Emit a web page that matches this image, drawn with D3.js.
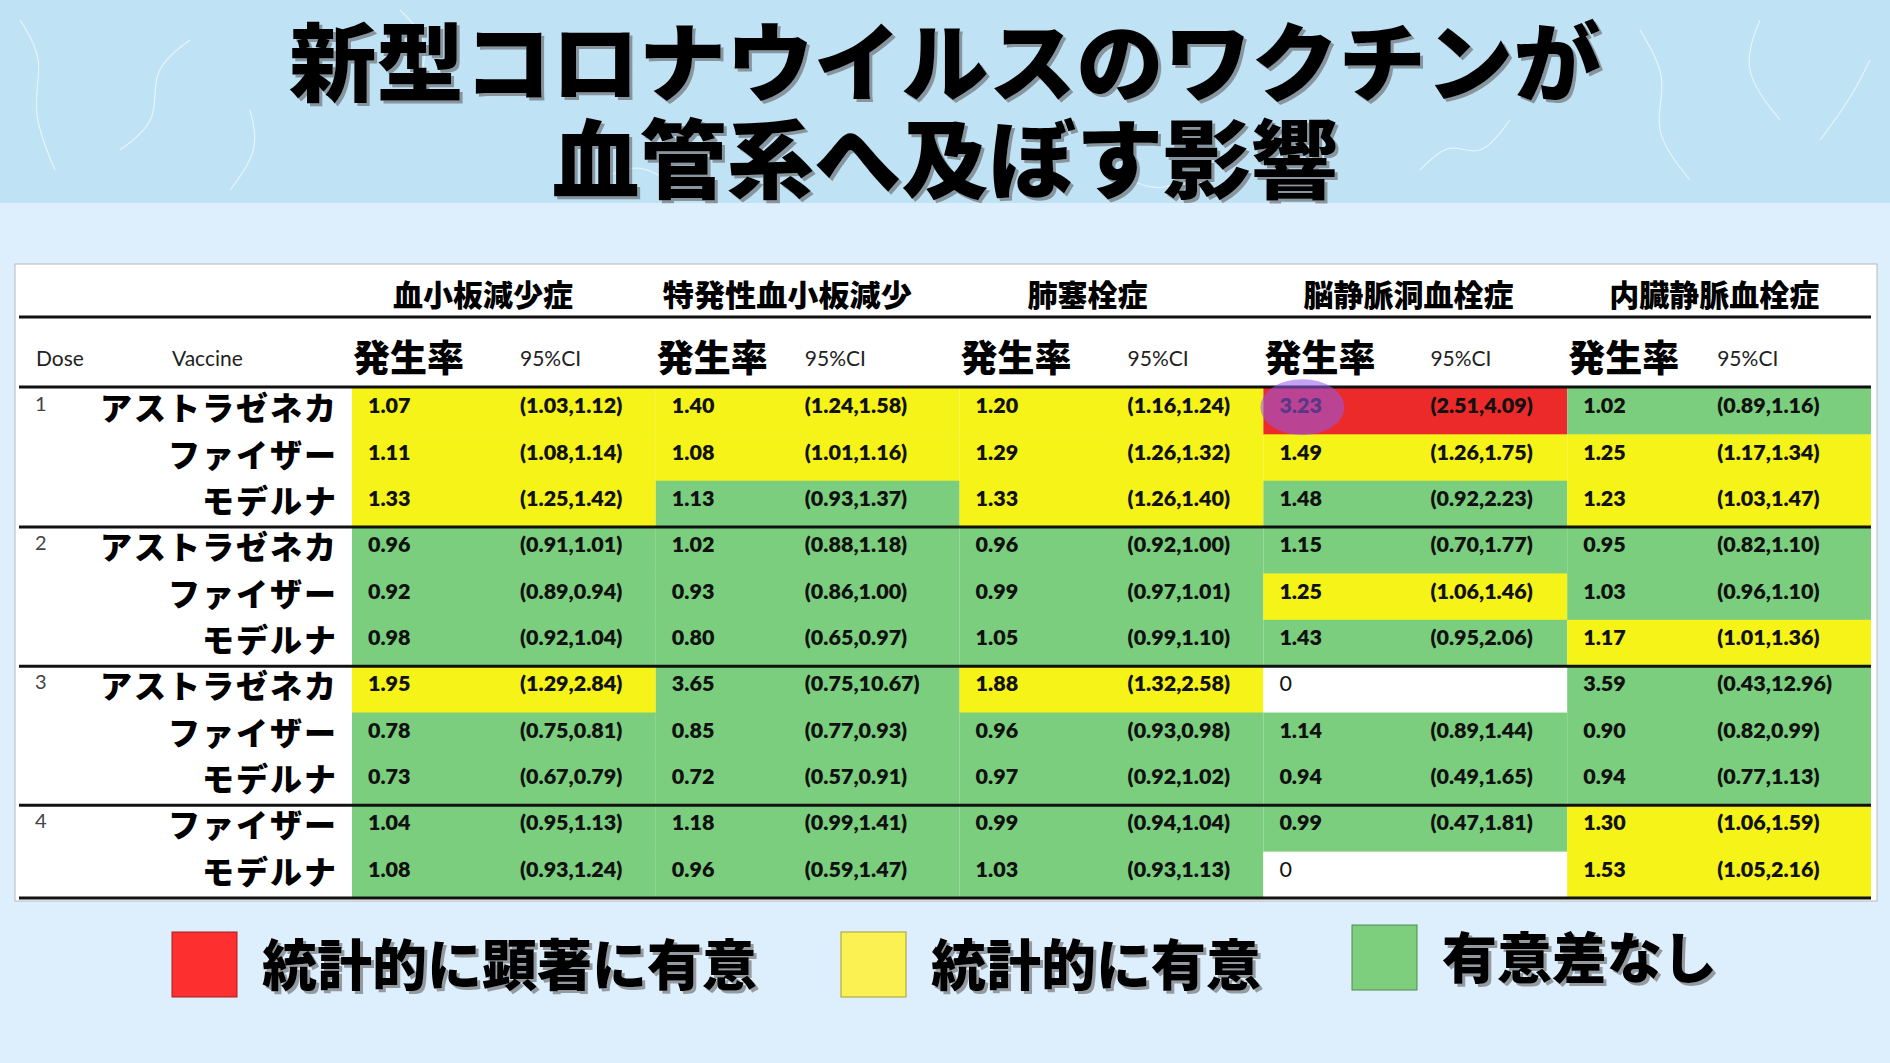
<!DOCTYPE html>
<meta charset="utf-8">
<style>
  html, body { margin: 0; padding: 0; background: #ddeefc; }
  svg { display: block; }
</style>
<body>
<script src="https://cdn.jsdelivr.net/npm/d3@7"></script>
<script>

    var width = 1890,
        height = 1063;

    // ---- data ----
    var titleLines = ["新型コロナウイルスのワクチンが", "血管系へ及ぼす影響"];
    var diseases = ["血小板減少症", "特発性血小板減少", "肺塞栓症", "脳静脈洞血栓症", "内臓静脈血栓症"];
    var doses = [1, 1, 1, 2, 2, 2, 3, 3, 3, 4, 4];
    var vaccines = ["アストラゼネカ", "ファイザー", "モデルナ",
                    "アストラゼネカ", "ファイザー", "モデルナ",
                    "アストラゼネカ", "ファイザー", "モデルナ",
                    "ファイザー", "モデルナ"];

    // incidence rate ratio, 95% CI, significance (R = highly sig., Y = sig., G = none, W = no data)
    var rateThrombo = [1.07, 1.11, 1.33, 0.96, 0.92, 0.98, 1.95, 0.78, 0.73, 1.04, 1.08];
    var ciThrombo   = ["(1.03,1.12)", "(1.08,1.14)", "(1.25,1.42)", "(0.91,1.01)", "(0.89,0.94)", "(0.92,1.04)",
                       "(1.29,2.84)", "(0.75,0.81)", "(0.67,0.79)", "(0.95,1.13)", "(0.93,1.24)"];
    var sigThrombo  = ["Y", "Y", "Y", "G", "G", "G", "Y", "G", "G", "G", "G"];

    var rateITP = [1.40, 1.08, 1.13, 1.02, 0.93, 0.80, 3.65, 0.85, 0.72, 1.18, 0.96];
    var ciITP   = ["(1.24,1.58)", "(1.01,1.16)", "(0.93,1.37)", "(0.88,1.18)", "(0.86,1.00)", "(0.65,0.97)",
                   "(0.75,10.67)", "(0.77,0.93)", "(0.57,0.91)", "(0.99,1.41)", "(0.59,1.47)"];
    var sigITP  = ["Y", "Y", "G", "G", "G", "G", "G", "G", "G", "G", "G"];

    var ratePE = [1.20, 1.29, 1.33, 0.96, 0.99, 1.05, 1.88, 0.96, 0.97, 0.99, 1.03];
    var ciPE   = ["(1.16,1.24)", "(1.26,1.32)", "(1.26,1.40)", "(0.92,1.00)", "(0.97,1.01)", "(0.99,1.10)",
                  "(1.32,2.58)", "(0.93,0.98)", "(0.92,1.02)", "(0.94,1.04)", "(0.93,1.13)"];
    var sigPE  = ["Y", "Y", "Y", "G", "G", "G", "Y", "G", "G", "G", "G"];

    var rateCVST = [3.23, 1.49, 1.48, 1.15, 1.25, 1.43, 0, 1.14, 0.94, 0.99, 0];
    var ciCVST   = ["(2.51,4.09)", "(1.26,1.75)", "(0.92,2.23)", "(0.70,1.77)", "(1.06,1.46)", "(0.95,2.06)",
                    "", "(0.89,1.44)", "(0.49,1.65)", "(0.47,1.81)", ""];
    var sigCVST  = ["R", "Y", "G", "G", "Y", "G", "W", "G", "G", "G", "W"];

    var rateSVT = [1.02, 1.25, 1.23, 0.95, 1.03, 1.17, 3.59, 0.90, 0.94, 1.30, 1.53];
    var ciSVT   = ["(0.89,1.16)", "(1.17,1.34)", "(1.03,1.47)", "(0.82,1.10)", "(0.96,1.10)", "(1.01,1.36)",
                   "(0.43,12.96)", "(0.82,0.99)", "(0.77,1.13)", "(1.06,1.59)", "(1.05,2.16)"];
    var sigSVT  = ["G", "Y", "Y", "G", "G", "Y", "G", "G", "G", "Y", "Y"];

    var legendLabels = ["統計的に顕著に有意", "統計的に有意", "有意差なし"];
    var legendKeys = ["R", "Y", "G"];

    var rates = [rateThrombo, rateITP, ratePE, rateCVST, rateSVT];
    var cis = [ciThrombo, ciITP, ciPE, ciCVST, ciSVT];
    var sigs = [sigThrombo, sigITP, sigPE, sigCVST, sigSVT];

    var cells = [];
    diseases.forEach(function(d, j) {
        rates[j].forEach(function(r, i) {
            cells.push({disease: d, col: j, row: i, rate: r, ci: cis[j][i], sig: sigs[j][i]});
        });
    });

    // ---- layout ----
    var jpFont = "'Noto Sans CJK JP', 'Noto Sans CJK SC', sans-serif";
    var numFont = "Lato, 'Open Sans', sans-serif";

    var x = d3.scaleBand().domain(diseases).range([352, 1871]);
    var y = d3.scaleBand().domain(d3.range(doses.length)).range([388, 898]);
    var rowH = y.bandwidth();

    var cellColor = d3.scaleOrdinal()
            .domain(["R", "Y", "G", "W"])
            .range(["#ec2a2a", "#f6f318", "#7bce7e", "#ffffff"]);
    var legendColor = d3.scaleOrdinal()
            .domain(["R", "Y", "G"])
            .range(["#fd2f2f", "#fbf152", "#7dcf7e"]);

    var ciOffset = [168, 149, 168, 167, 150];   // CI column inside each pair
    var headOffset = [41, 7, 68, 40, 42];       // disease header left edge
    var textShift = -6;                         // numbers sit a little above row centre

    var fmt = d3.format(".2f");

    var svg = d3.select("body").append("svg")
            .attr("width", width)
            .attr("height", height);

    var defs = svg.append("defs");
    defs.append("filter").attr("id", "shadow")
            .attr("x", "-5%").attr("y", "-20%").attr("width", "110%").attr("height", "140%")
            .append("feDropShadow")
            .attr("dx", 3).attr("dy", 3).attr("stdDeviation", 0.6)
            .attr("flood-color", "#555").attr("flood-opacity", 0.55);

    // background
    svg.append("rect").attr("width", width).attr("height", height).attr("fill", "#ddeefc");
    svg.append("rect").attr("width", width).attr("height", 203).attr("fill", "#c0e2f5");

    // faint paper fibres in the title band
    var fibre = d3.line().curve(d3.curveBasis);
    var fibres = [
        [[20, 20], [45, 60], [30, 110], [55, 170]],
        [[120, 150], [160, 120], [150, 70], [190, 40]],
        [[230, 190], [260, 150], [250, 110]],
        [[1640, 30], [1670, 80], [1650, 130], [1690, 180]],
        [[1760, 20], [1740, 70], [1780, 120]],
        [[1820, 140], [1850, 100], [1870, 60]],
        [[400, 10], [430, 40], [420, 80]],
        [[1420, 170], [1450, 140], [1480, 160], [1510, 120]],
        [[600, 180], [640, 160], [680, 190]],
        [[1120, 175], [1160, 195], [1200, 170]]
    ];
    svg.append("g").selectAll("path").data(fibres).enter().append("path")
            .attr("d", fibre)
            .attr("fill", "none")
            .attr("stroke", "#ffffff")
            .attr("stroke-opacity", 0.6)
            .attr("stroke-width", 1.2);

    // title
    var titleY = [57, 154];
    svg.append("g")
            .attr("font-family", jpFont)
            .attr("font-weight", 900)
            .attr("font-size", 86)
            .attr("text-anchor", "middle")
            .attr("filter", "url(#shadow)")
            .selectAll("text").data(titleLines).enter().append("text")
            .attr("x", 945)
            .attr("y", function(d, i) { return titleY[i]; })
            .attr("dominant-baseline", "central")
            .attr("fill", "#000")
            .attr("textLength", function(d, i) { return i === 0 ? 1312 : 786; })
            .attr("lengthAdjust", "spacingAndGlyphs")
            .text(function(d) { return d; });

    // table panel
    svg.append("rect")
            .attr("x", 15).attr("y", 264)
            .attr("width", 1862).attr("height", 637)
            .attr("fill", "#ffffff")
            .attr("stroke", "#b8b8b8");

    // cell fills
    svg.append("g").selectAll("rect").data(cells).enter().append("rect")
            .attr("x", function(d) { return x(d.disease); })
            .attr("y", function(d) { return y(d.row); })
            .attr("width", x.bandwidth())
            .attr("height", rowH + 0.5)
            .attr("fill", function(d) { return cellColor(d.sig); });

    // disease headers
    svg.append("g").selectAll("text").data(diseases).enter().append("text")
            .attr("x", function(d, j) { return x(d) + headOffset[j]; })
            .attr("y", 293)
            .attr("dominant-baseline", "central")
            .attr("font-family", jpFont)
            .attr("font-weight", 900)
            .attr("font-size", 30)
            .attr("textLength", function(d, j) { return j === 1 ? 249 : null; })
            .attr("lengthAdjust", "spacingAndGlyphs")
            .text(function(d) { return d; });

    // sub headers
    var sub = svg.append("g");
    sub.append("text").attr("x", 36).attr("y", 357).text("Dose");
    sub.append("text").attr("x", 172).attr("y", 357).text("Vaccine");
    sub.selectAll("text.ci").data(diseases).enter().append("text")
            .attr("class", "ci")
            .attr("x", function(d, j) { return x(d) + ciOffset[j]; })
            .attr("y", 357)
            .text("95%CI");
    sub.selectAll("text")
            .attr("dominant-baseline", "central")
            .attr("font-family", numFont)
            .attr("font-size", 21)
            .attr("fill", "#222");
    sub.selectAll("text.rate").data(diseases).enter().append("text")
            .attr("x", function(d) { return x(d) + 1; })
            .attr("y", 356)
            .attr("dominant-baseline", "central")
            .attr("font-family", jpFont)
            .attr("font-weight", 900)
            .attr("font-size", 37)
            .text("発生率");

    // dose numbers (first row of each group)
    svg.append("g").selectAll("text")
            .data(doses.map(function(d, i) { return {dose: d, row: i}; })
                    .filter(function(d, i) { return i === 0 || doses[i - 1] !== d.dose; }))
            .enter().append("text")
            .attr("x", 35)
            .attr("y", function(d) { return y(d.row) + rowH / 2 - 8; })
            .attr("dominant-baseline", "central")
            .attr("font-family", numFont)
            .attr("font-size", 20)
            .attr("fill", "#444")
            .text(function(d) { return d.dose; });

    // vaccine labels
    svg.append("g").selectAll("text").data(vaccines).enter().append("text")
            .attr("x", 338)
            .attr("y", function(d, i) { return y(i) + rowH / 2 - 5; })
            .attr("dominant-baseline", "central")
            .attr("text-anchor", "end")
            .attr("font-family", jpFont)
            .attr("font-weight", 900)
            .attr("font-size", 32)
            .attr("letter-spacing", 2)
            .text(function(d) { return d; });

    // values
    var vals = svg.append("g")
            .attr("font-family", numFont)
            .attr("font-size", 21.5)
            .attr("fill", "#111");
    vals.selectAll("text.rate").data(cells).enter().append("text")
            .attr("x", function(d) { return x(d.disease) + 16; })
            .attr("y", function(d) { return y(d.row) + rowH / 2 + textShift; })
            .attr("dominant-baseline", "central")
            .attr("font-weight", function(d) { return d.rate === 0 ? 400 : 800; })
            .text(function(d) { return d.rate === 0 ? "0" : fmt(d.rate); });
    vals.selectAll("text.ci").data(cells).enter().append("text")
            .attr("x", function(d) { return x(d.disease) + ciOffset[d.col]; })
            .attr("y", function(d) { return y(d.row) + rowH / 2 + textShift; })
            .attr("dominant-baseline", "central")
            .attr("font-weight", 800)
            .text(function(d) { return d.ci; });

    // rules
    var groupStarts = doses.map(function(d, i) { return i; })
            .filter(function(i) { return i > 0 && doses[i - 1] !== doses[i]; });
    var ruleY = [317, 387].concat(groupStarts.map(function(i) { return y(i); }), [898]);
    svg.append("g").selectAll("line").data(ruleY).enter().append("line")
            .attr("x1", 19).attr("x2", 1871)
            .attr("y1", function(d) { return d; })
            .attr("y2", function(d) { return d; })
            .attr("stroke", "#111")
            .attr("stroke-width", 3);

    // highlight circle on the highest value
    var peak = cells.filter(function(d) { return d.sig === "R"; })[0];
    svg.append("ellipse")
            .attr("cx", x(peak.disease) + 39)
            .attr("cy", y(peak.row) + rowH / 2 - 4)
            .attr("rx", 42).attr("ry", 28)
            .attr("fill", "#9457ea")
            .attr("fill-opacity", 0.55);

    // legend
    var legendBox = [[172, 932], [841, 932], [1352, 925]];
    var legendTextY = [961, 961, 954];
    var legend = svg.append("g").selectAll("g").data(legendKeys).enter().append("g");
    legend.append("rect")
            .attr("x", function(d, i) { return legendBox[i][0]; })
            .attr("y", function(d, i) { return legendBox[i][1]; })
            .attr("width", 65).attr("height", 65)
            .attr("fill", function(d) { return legendColor(d); })
            .attr("stroke", function(d) { return d3.color(legendColor(d)).darker(1.2); })
            .attr("stroke-width", 1);
    legend.append("text")
            .attr("x", function(d, i) { return legendBox[i][0] + 90; })
            .attr("y", function(d, i) { return legendTextY[i]; })
            .attr("dominant-baseline", "central")
            .attr("font-family", jpFont)
            .attr("font-weight", 900)
            .attr("font-size", 55)
            .attr("fill", "#000")
            .attr("filter", "url(#shadow)")
            .text(function(d, i) { return legendLabels[i]; });

</script>
</body>
